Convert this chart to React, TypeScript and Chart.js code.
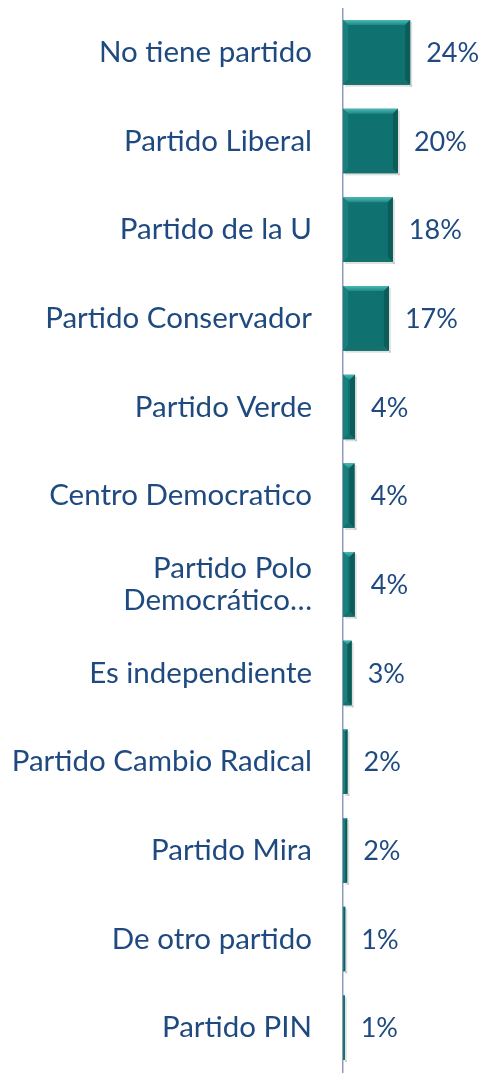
import React, { useEffect, useRef } from "react";
import { Chart, registerables } from "chart.js";

Chart.register(...registerables);

const categories: (string | string[])[] = [
  "No tiene partido",
  "Partido Liberal",
  "Partido de la U",
  "Partido Conservador",
  "Partido Verde",
  "Centro Democratico",
  ["Partido Polo", "Democrático…"],
  "Es independiente",
  "Partido Cambio Radical",
  "Partido Mira",
  "De otro partido",
  "Partido PIN",
];

const values = [24, 19.6, 17.8, 16.4, 4.3, 4.1, 4.2, 3.1, 1.6, 1.5, 0.8, 0.6];
const valueLabels = ["24%", "20%", "18%", "17%", "4%", "4%", "4%", "3%", "2%", "2%", "1%", "1%"];

const TEXT = "#1F4A80";
const FONT = "Lato, 'Open Sans', sans-serif";

const bevelPlugin = {
  id: "bevel",
  afterDatasetsDraw(chart: any) {
    const ctx = chart.ctx;
    const meta = chart.getDatasetMeta(0);
    meta.data.forEach((el: any, i: number) => {
      const p = el.getProps(["x", "y", "base", "height"], true);
      const x0 = Math.min(p.base, p.x);
      const x1 = Math.max(p.base, p.x);
      const y0 = p.y - p.height / 2;
      const y1 = p.y + p.height / 2;
      const w = x1 - x0;
      const b = Math.min(5, w / 2.2);
      ctx.save();
      const gTop = ctx.createLinearGradient(0, y0, 0, y0 + b);
      gTop.addColorStop(0, "#4ABAB6");
      gTop.addColorStop(1, "#1E8985");
      ctx.fillStyle = gTop;
      ctx.beginPath();
      ctx.moveTo(x0, y0);
      ctx.lineTo(x1, y0);
      ctx.lineTo(x1 - b, y0 + b);
      ctx.lineTo(x0 + b, y0 + b);
      ctx.closePath();
      ctx.fill();
      ctx.fillStyle = "#1A807C";
      ctx.beginPath();
      ctx.moveTo(x0, y0);
      ctx.lineTo(x0 + b, y0 + b);
      ctx.lineTo(x0 + b, y1 - b);
      ctx.lineTo(x0, y1);
      ctx.closePath();
      ctx.fill();
      ctx.fillStyle = "#0C5C5A";
      ctx.beginPath();
      ctx.moveTo(x1, y0);
      ctx.lineTo(x1 - b, y0 + b);
      ctx.lineTo(x1 - b, y1 - b);
      ctx.lineTo(x1, y1);
      ctx.closePath();
      ctx.fill();
      ctx.fillStyle = "#13716E";
      ctx.beginPath();
      ctx.moveTo(x0, y1);
      ctx.lineTo(x1, y1);
      ctx.lineTo(x1 - b, y1 - b);
      ctx.lineTo(x0 + b, y1 - b);
      ctx.closePath();
      ctx.fill();
      ctx.fillStyle = "rgba(0,0,0,0.12)";
      ctx.fillRect(x0 + 2, y1, w, 2);
      ctx.fillRect(x1, y0 + 2, 2, y1 - y0);
      ctx.fillStyle = TEXT;
      ctx.font = `27px ${FONT}`;
      ctx.textAlign = "left";
      ctx.textBaseline = "middle";
      ctx.fillText(valueLabels[i], x1 + 16, p.y + 1);
      ctx.restore();
    });
  },
};

export default function App() {
  const ref = useRef<HTMLCanvasElement | null>(null);

  useEffect(() => {
    document.documentElement.style.overflow = "hidden";
    document.body.style.overflow = "hidden";
    if (!ref.current) return;
    const chart = new Chart(ref.current, {
      type: "bar",
      data: {
        labels: categories,
        datasets: [
          {
            data: values,
            backgroundColor: "#107270",
            borderWidth: 0,
            categoryPercentage: 1,
            barPercentage: 0.73,
          },
        ],
      },
      options: {
        indexAxis: "y",
        animation: false,
        responsive: true,
        maintainAspectRatio: false,
        layout: { padding: { top: 0, bottom: 2, left: 0, right: 0 } },
        plugins: {
          legend: { display: false },
          tooltip: { enabled: false },
        },
        scales: {
          x: {
            min: 0,
            max: 50,
            display: false,
            grid: { display: false },
          },
          y: {
            afterFit(scale: any) {
              scale.width = 335;
              scale.paddingTop = 0;
              scale.paddingBottom = 0;
            },
            grid: { display: false, drawTicks: false },
            border: { display: true, color: "#8E9BBF", width: 1.5 },
            ticks: {
              color: TEXT,
              font: { family: FONT, size: 29.5, lineHeight: 1.1 },
              padding: 31,
              autoSkip: false,
            },
          },
        },
      },
      plugins: [bevelPlugin],
    });
    return () => chart.destroy();
  }, []);

  return (
    <div style={{ position: "relative", width: 475, height: 1066 }}>
      <canvas ref={ref} />
    </div>
  );
}
